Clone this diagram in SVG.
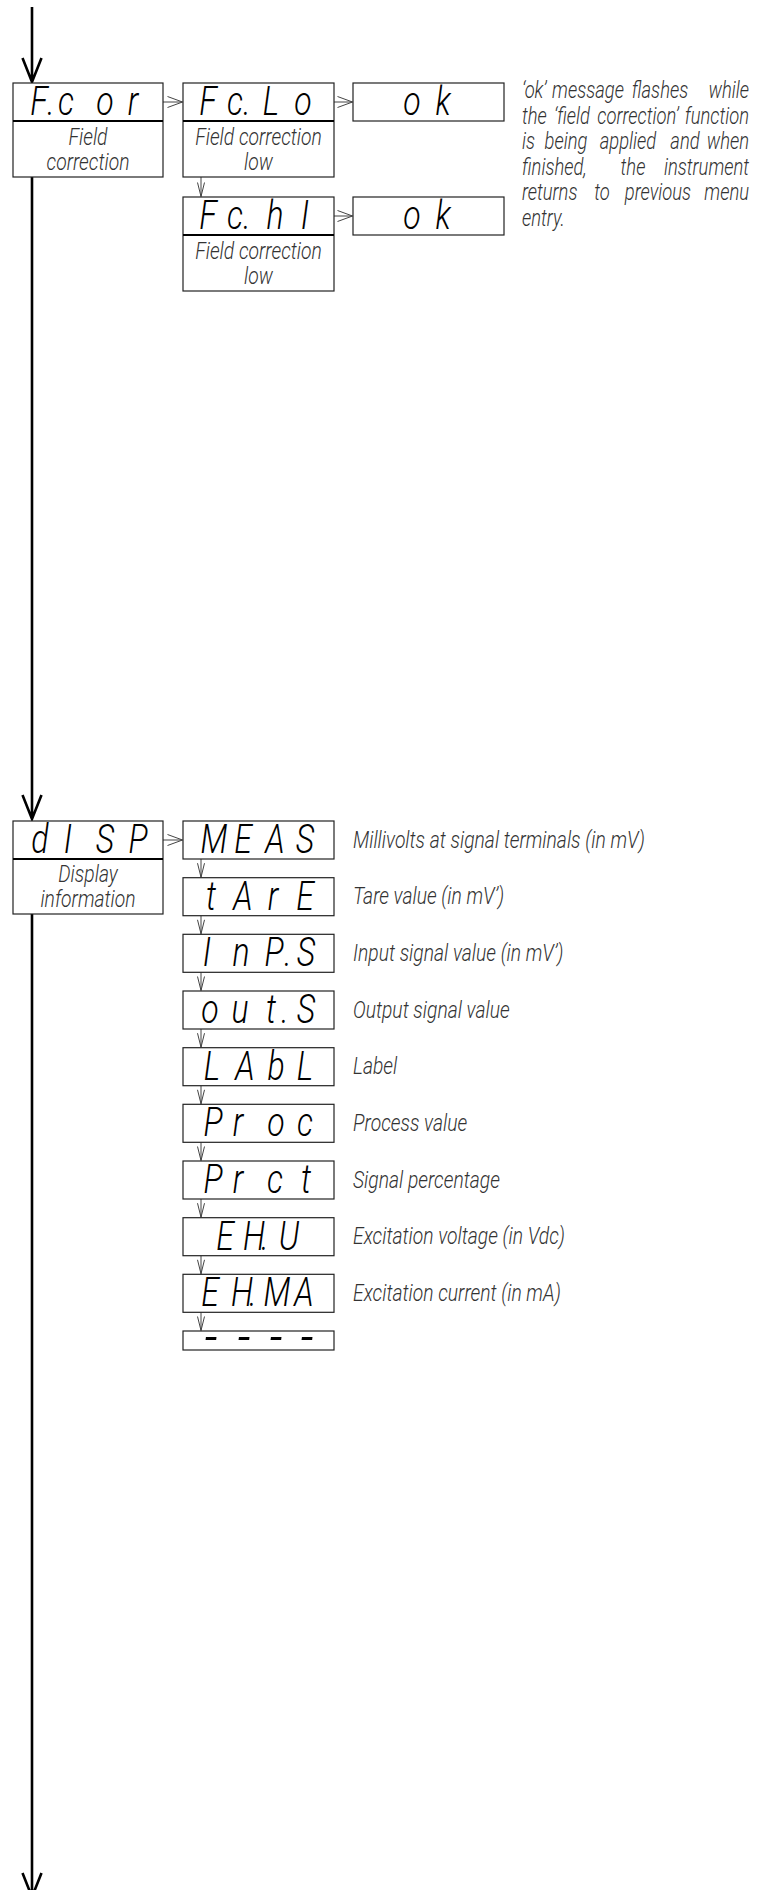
<svg xmlns="http://www.w3.org/2000/svg" width="761" height="1890" viewBox="0 0 761 1890">
  <style>
    .box { fill: #fff; stroke: #222; stroke-width: 1.2; }
    .rule { stroke: #000; stroke-width: 2; }
    .seg { font-family: Roboto, "Liberation Sans", sans-serif; font-style: italic; font-weight: 300; font-size: 40px; fill: #000; text-anchor: middle; }
    .dash { font-size: 58px; font-weight: 300; }
    .lbl { font-family: Roboto, "Liberation Sans", sans-serif; font-style: italic; font-weight: 300; font-size: 23px; fill: #333; text-anchor: middle; }
    .desc { font-family: Roboto, "Liberation Sans", sans-serif; font-style: italic; font-weight: 300; font-size: 23px; fill: #333; }
    .mid { text-anchor: middle; }
    .end { text-anchor: end; }
    .main { stroke: #000; stroke-width: 2.6; fill: none; stroke-linejoin: miter; }
    .sub { stroke: #444; stroke-width: 1; fill: none; }
  </style>

  <!-- menu flow -->
  <g id="connectors">
    <path class="main" d="M32 7V82M22.5 58L32 82L41.5 58"/>
    <path class="main" d="M32 177V819M22.5 795L32 819L41.5 795"/>
    <path class="main" d="M32 914V1897M22.5 1873L32 1897L41.5 1873"/>

    <path class="sub" d="M163 102H182.5M167.5 96.5L182.5 102L167.5 107.5"/>
    <path class="sub" d="M334 102H352.5M337.5 96.5L352.5 102L337.5 107.5"/>
    <path class="sub" d="M334 216H352.5M337.5 210.5L352.5 216L337.5 221.5"/>
    <path class="sub" d="M201 177V196.5M197.5 182.5L201 196.5L204.5 182.5"/>

    <path class="sub" d="M163 840H182.5M167.5 834.5L182.5 840L167.5 845.5"/>
    <path class="sub" d="M201 859V877.2M197.5 863.2L201 877.2L204.5 863.2"/>
    <path class="sub" d="M201 915.7V933.8M197.5 919.8L201 933.8L204.5 919.8"/>
    <path class="sub" d="M201 972.3V990.5M197.5 976.5L201 990.5L204.5 976.5"/>
    <path class="sub" d="M201 1029V1047.2M197.5 1033.2L201 1047.2L204.5 1033.2"/>
    <path class="sub" d="M201 1085.7V1103.8M197.5 1089.8L201 1103.8L204.5 1089.8"/>
    <path class="sub" d="M201 1142.3V1160.5M197.5 1146.5L201 1160.5L204.5 1146.5"/>
    <path class="sub" d="M201 1199V1217.2M197.5 1203.2L201 1217.2L204.5 1203.2"/>
    <path class="sub" d="M201 1255.7V1273.8M197.5 1259.8L201 1273.8L204.5 1259.8"/>
    <path class="sub" d="M201 1312.3V1330.5M197.5 1316.5L201 1330.5L204.5 1316.5"/>
  </g>

  <!-- field correction branch -->
  <g id="node-fcor">
    <rect class="box" x="13" y="83" width="150" height="94"/>
    <line class="rule" x1="13" y1="121" x2="163" y2="121"/>
    <text class="seg" transform="scale(0.8,1)" x="48.75 63.75 82.5 131.25 166.25" y="115">F.cor</text>
    <text class="lbl" transform="translate(88,145) scale(0.84,1)">Field</text>
    <text class="lbl" transform="translate(88,170) scale(0.84,1)">correction</text>
  </g>

  <g id="node-fclo">
    <rect class="box" x="183" y="83" width="151" height="94"/>
    <line class="rule" x1="183" y1="121" x2="334" y2="121"/>
    <text class="seg" transform="scale(0.8,1)" x="260 293.75 308.75 338.75 378.75" y="115">Fc.Lo</text>
    <text class="lbl" transform="translate(258.5,145) scale(0.84,1)">Field correction</text>
    <text class="lbl" transform="translate(258.5,170) scale(0.84,1)">low</text>
  </g>

  <g id="node-fchi">
    <rect class="box" x="183" y="197" width="151" height="94"/>
    <line class="rule" x1="183" y1="235" x2="334" y2="235"/>
    <text class="seg" transform="scale(0.8,1)" x="260 293.75 308.75 343.75 381.25" y="229">Fc.hI</text>
    <text class="lbl" transform="translate(258.5,259) scale(0.84,1)">Field correction</text>
    <text class="lbl" transform="translate(258.5,284) scale(0.84,1)">low</text>
  </g>

  <g id="node-ok-lo">
    <rect class="box" x="353" y="83" width="151" height="38"/>
    <text class="seg" transform="scale(0.8,1)" x="515 553.75" y="115">ok</text>
  </g>

  <g id="node-ok-hi">
    <rect class="box" x="353" y="197" width="151" height="38"/>
    <text class="seg" transform="scale(0.8,1)" x="515 553.75" y="229">ok</text>
  </g>

  <!-- justified note: one text per word, outer words pinned to the margins -->
  <g id="note-ok">
    <text class="desc" transform="translate(522,98) scale(0.8,1)">‘ok’</text>
    <text class="desc mid" transform="translate(588,98) scale(0.8,1)">message</text>
    <text class="desc mid" transform="translate(660,98) scale(0.8,1)">flashes</text>
    <text class="desc end" transform="translate(749,98) scale(0.8,1)">while</text>

    <text class="desc" transform="translate(522,123.6) scale(0.8,1)">the</text>
    <text class="desc mid" transform="translate(572,123.6) scale(0.8,1)">‘field</text>
    <text class="desc mid" transform="translate(638,123.6) scale(0.8,1)">correction’</text>
    <text class="desc end" transform="translate(749,123.6) scale(0.8,1)">function</text>

    <text class="desc" transform="translate(522,149.2) scale(0.8,1)">is</text>
    <text class="desc mid" transform="translate(566,149.2) scale(0.8,1)">being</text>
    <text class="desc mid" transform="translate(628,149.2) scale(0.8,1)">applied</text>
    <text class="desc mid" transform="translate(685,149.2) scale(0.8,1)">and</text>
    <text class="desc end" transform="translate(749,149.2) scale(0.8,1)">when</text>

    <text class="desc" transform="translate(522,174.8) scale(0.8,1)">finished,</text>
    <text class="desc mid" transform="translate(633,174.8) scale(0.8,1)">the</text>
    <text class="desc end" transform="translate(749,174.8) scale(0.8,1)">instrument</text>

    <text class="desc" transform="translate(522,200.4) scale(0.8,1)">returns</text>
    <text class="desc mid" transform="translate(602,200.4) scale(0.8,1)">to</text>
    <text class="desc mid" transform="translate(658,200.4) scale(0.8,1)">previous</text>
    <text class="desc end" transform="translate(749,200.4) scale(0.8,1)">menu</text>

    <text class="desc" transform="translate(522,226) scale(0.8,1)">entry.</text>
  </g>

  <!-- display information branch -->
  <g id="node-disp">
    <rect class="box" x="13" y="821" width="150" height="93"/>
    <line class="rule" x1="13" y1="859" x2="163" y2="859"/>
    <text class="seg" transform="scale(0.8,1)" x="50 85 131.25 172.5" y="853">dISP</text>
    <text class="lbl" transform="translate(88,882) scale(0.84,1)">Display</text>
    <text class="lbl" transform="translate(88,907) scale(0.84,1)">information</text>
  </g>

  <g id="node-meas">
    <rect class="box" x="183" y="821" width="151" height="38"/>
    <text class="seg" transform="scale(0.8,1)" x="267.5 303.75 343.75 381.25" y="853">MEAS</text>
    <text class="desc" transform="translate(353,847.5) scale(0.84,1)">Millivolts at signal terminals (in mV)</text>
  </g>

  <g id="node-tare">
    <rect class="box" x="183" y="877.7" width="151" height="38"/>
    <text class="seg" transform="scale(0.8,1)" x="263.75 303.75 341.25 381.25" y="909.7">tArE</text>
    <text class="desc" transform="translate(353,904.2) scale(0.84,1)">Tare value (in mV’)</text>
  </g>

  <g id="node-inps">
    <rect class="box" x="183" y="934.3" width="151" height="38"/>
    <text class="seg" transform="scale(0.8,1)" x="258.75 301.25 342.5 360 382.5" y="966.3">InP.S</text>
    <text class="desc" transform="translate(353,960.8) scale(0.84,1)">Input signal value (in mV’)</text>
  </g>

  <g id="node-outs">
    <rect class="box" x="183" y="991" width="151" height="38"/>
    <text class="seg" transform="scale(0.8,1)" x="262.5 300 338.75 356.25 382.5" y="1023">out.S</text>
    <text class="desc" transform="translate(353,1017.5) scale(0.84,1)">Output signal value</text>
  </g>

  <g id="node-labl">
    <rect class="box" x="183" y="1047.7" width="151" height="38"/>
    <text class="seg" transform="scale(0.8,1)" x="265 306.25 345 381.25" y="1079.7">LAbL</text>
    <text class="desc" transform="translate(353,1074.2) scale(0.84,1)">Label</text>
  </g>

  <g id="node-proc">
    <rect class="box" x="183" y="1104.3" width="151" height="38"/>
    <text class="seg" transform="scale(0.8,1)" x="266.25 297.5 345 381.25" y="1136.3">Proc</text>
    <text class="desc" transform="translate(353,1130.8) scale(0.84,1)">Process value</text>
  </g>

  <g id="node-prct">
    <rect class="box" x="183" y="1161" width="151" height="38"/>
    <text class="seg" transform="scale(0.8,1)" x="266.25 297.5 343.75 382.5" y="1193">Prct</text>
    <text class="desc" transform="translate(353,1187.5) scale(0.84,1)">Signal percentage</text>
  </g>

  <g id="node-exv">
    <rect class="box" x="183" y="1217.7" width="151" height="38"/>
    <text class="seg" transform="scale(0.8,1)" x="281.25 317.5 331.25 361.25" y="1249.7">EH.U</text>
    <text class="desc" transform="translate(353,1244.2) scale(0.84,1)">Excitation voltage (in Vdc)</text>
  </g>

  <g id="node-exma">
    <rect class="box" x="183" y="1274.3" width="151" height="38"/>
    <text class="seg" transform="scale(0.8,1)" x="262.5 302.5 316.25 346.25 380" y="1306.3">EH.MA</text>
    <text class="desc" transform="translate(353,1300.8) scale(0.84,1)">Excitation current (in mA)</text>
  </g>

  <g id="node-end">
    <rect class="box" x="183" y="1331" width="151" height="19"/>
    <text class="seg dash" transform="scale(0.8,1)" x="263.75 305 345 383.75" y="1357">----</text>
  </g>
</svg>
